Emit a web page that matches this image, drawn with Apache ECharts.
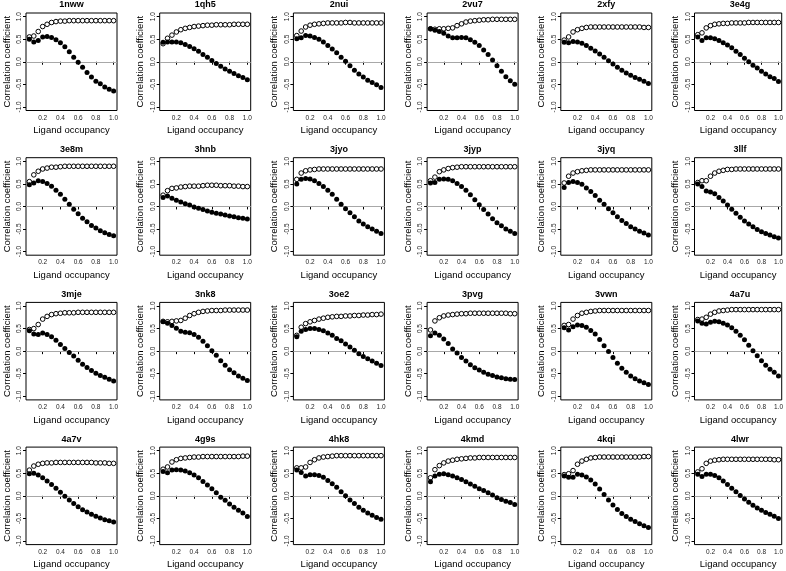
<!DOCTYPE html>
<html><head><meta charset="utf-8">
<script src="https://cdn.jsdelivr.net/npm/echarts@6/dist/echarts.min.js"></script>
<style>html,body{margin:0;padding:0;background:#fff}#c{width:786px;height:571px}</style>
</head><body><div id="c"></div><script>
const occupancy = [0.05,0.10,0.15,0.20,0.25,0.30,0.35,0.40,0.45,0.50,0.55,0.60,0.65,0.70,0.75,0.80,0.85,0.90,0.95,1.00];
const panelNames = ['1nww','1qh5','2nui','2vu7','2xfy','3e4g','3e8m','3hnb','3jyo','3jyp','3jyq','3llf','3mje','3nk8','3oe2','3pvg','3vwn','4a7u','4a7v','4g9s','4hk8','4kmd','4kqi','4lwr'];
const xTicks = [0.2,0.4,0.6,0.8,1.0];
const yTicks = [-1.0,-0.5,0.0,0.5,1.0];
const openValues = [
[0.55,0.57,0.67,0.78,0.83,0.87,0.89,0.90,0.90,0.91,0.91,0.91,0.91,0.91,0.91,0.91,0.91,0.91,0.91,0.91],
[0.40,0.52,0.59,0.66,0.71,0.74,0.76,0.78,0.79,0.80,0.81,0.81,0.82,0.82,0.82,0.82,0.83,0.83,0.83,0.83],
[0.58,0.68,0.77,0.81,0.83,0.84,0.85,0.86,0.86,0.86,0.86,0.87,0.87,0.86,0.86,0.86,0.86,0.86,0.86,0.86],
[0.73,0.72,0.73,0.73,0.74,0.75,0.80,0.84,0.88,0.90,0.91,0.92,0.93,0.93,0.94,0.94,0.94,0.94,0.94,0.94],
[0.48,0.55,0.66,0.71,0.74,0.76,0.77,0.77,0.77,0.77,0.77,0.77,0.77,0.77,0.77,0.77,0.77,0.77,0.76,0.76],
[0.60,0.64,0.75,0.80,0.83,0.84,0.85,0.85,0.86,0.86,0.86,0.86,0.87,0.87,0.87,0.87,0.87,0.87,0.87,0.87],
[0.55,0.70,0.78,0.83,0.85,0.87,0.87,0.88,0.89,0.89,0.89,0.89,0.89,0.89,0.89,0.89,0.89,0.89,0.89,0.89],
[0.25,0.35,0.40,0.41,0.43,0.44,0.45,0.45,0.45,0.46,0.47,0.47,0.47,0.46,0.46,0.46,0.45,0.45,0.44,0.44],
[0.60,0.74,0.79,0.81,0.82,0.83,0.83,0.83,0.83,0.83,0.83,0.83,0.83,0.83,0.83,0.83,0.83,0.83,0.83,0.83],
[0.57,0.65,0.77,0.81,0.84,0.86,0.87,0.88,0.88,0.88,0.88,0.88,0.88,0.88,0.88,0.88,0.88,0.88,0.88,0.88],
[0.52,0.67,0.74,0.77,0.79,0.80,0.81,0.81,0.81,0.81,0.81,0.81,0.81,0.81,0.81,0.81,0.81,0.81,0.81,0.81],
[0.53,0.57,0.57,0.67,0.74,0.78,0.80,0.82,0.82,0.83,0.83,0.83,0.83,0.83,0.83,0.83,0.83,0.83,0.83,0.83],
[0.48,0.50,0.59,0.71,0.77,0.81,0.83,0.84,0.85,0.85,0.85,0.86,0.86,0.86,0.86,0.86,0.86,0.86,0.86,0.86],
[0.66,0.65,0.66,0.67,0.68,0.73,0.79,0.83,0.86,0.88,0.89,0.90,0.90,0.90,0.91,0.91,0.91,0.91,0.91,0.91],
[0.35,0.53,0.61,0.65,0.68,0.71,0.73,0.75,0.76,0.77,0.77,0.78,0.78,0.79,0.79,0.80,0.80,0.81,0.81,0.82],
[0.47,0.67,0.74,0.78,0.80,0.81,0.82,0.83,0.83,0.84,0.84,0.84,0.84,0.84,0.84,0.84,0.84,0.84,0.83,0.83],
[0.57,0.59,0.71,0.79,0.84,0.86,0.88,0.89,0.90,0.90,0.90,0.90,0.90,0.90,0.90,0.90,0.90,0.90,0.90,0.90],
[0.70,0.71,0.75,0.82,0.86,0.89,0.90,0.91,0.92,0.92,0.92,0.92,0.92,0.92,0.92,0.92,0.92,0.92,0.92,0.92],
[0.57,0.66,0.70,0.72,0.73,0.73,0.74,0.74,0.74,0.74,0.74,0.74,0.74,0.74,0.74,0.73,0.73,0.73,0.72,0.72],
[0.59,0.64,0.75,0.80,0.83,0.84,0.85,0.86,0.86,0.87,0.87,0.87,0.87,0.87,0.87,0.87,0.87,0.87,0.88,0.88],
[0.62,0.62,0.64,0.74,0.80,0.84,0.86,0.87,0.88,0.89,0.89,0.89,0.89,0.89,0.89,0.89,0.89,0.89,0.89,0.89],
[0.40,0.58,0.67,0.73,0.77,0.79,0.81,0.82,0.83,0.84,0.84,0.85,0.85,0.85,0.85,0.85,0.85,0.85,0.85,0.85],
[0.47,0.49,0.56,0.70,0.77,0.81,0.84,0.85,0.86,0.86,0.86,0.86,0.86,0.86,0.86,0.86,0.86,0.86,0.87,0.87],
[0.53,0.60,0.72,0.77,0.79,0.80,0.81,0.81,0.81,0.81,0.81,0.81,0.81,0.81,0.81,0.81,0.81,0.81,0.80,0.80]
];
const filledValues = [
[0.50,0.44,0.47,0.55,0.56,0.54,0.49,0.42,0.33,0.22,0.10,-0.01,-0.12,-0.24,-0.34,-0.43,-0.49,-0.56,-0.61,-0.65],
[0.43,0.44,0.44,0.44,0.42,0.38,0.34,0.29,0.23,0.16,0.10,0.03,-0.04,-0.10,-0.16,-0.21,-0.26,-0.31,-0.35,-0.40],
[0.51,0.53,0.58,0.57,0.54,0.50,0.44,0.36,0.28,0.20,0.10,0.01,-0.09,-0.19,-0.27,-0.34,-0.41,-0.46,-0.51,-0.57],
[0.73,0.70,0.67,0.63,0.57,0.53,0.53,0.54,0.53,0.49,0.43,0.36,0.26,0.16,0.04,-0.09,-0.21,-0.33,-0.42,-0.50],
[0.43,0.42,0.45,0.44,0.41,0.36,0.30,0.24,0.17,0.10,0.02,-0.05,-0.12,-0.19,-0.25,-0.30,-0.35,-0.39,-0.43,-0.48],
[0.55,0.47,0.53,0.53,0.51,0.47,0.42,0.37,0.31,0.23,0.16,0.08,0.00,-0.08,-0.14,-0.21,-0.27,-0.33,-0.37,-0.44],
[0.48,0.52,0.57,0.55,0.51,0.45,0.36,0.27,0.16,0.05,-0.06,-0.16,-0.26,-0.34,-0.42,-0.48,-0.54,-0.58,-0.62,-0.65],
[0.20,0.23,0.18,0.14,0.10,0.06,0.03,-0.01,-0.04,-0.07,-0.10,-0.13,-0.15,-0.17,-0.19,-0.21,-0.23,-0.25,-0.26,-0.28],
[0.50,0.60,0.62,0.61,0.57,0.51,0.44,0.36,0.27,0.16,0.05,-0.05,-0.14,-0.23,-0.32,-0.39,-0.45,-0.50,-0.55,-0.60],
[0.52,0.53,0.60,0.61,0.60,0.57,0.51,0.44,0.36,0.26,0.15,0.04,-0.07,-0.17,-0.27,-0.36,-0.43,-0.50,-0.55,-0.60],
[0.42,0.53,0.55,0.53,0.49,0.41,0.33,0.24,0.14,0.05,-0.05,-0.14,-0.23,-0.31,-0.38,-0.45,-0.50,-0.55,-0.59,-0.63],
[0.50,0.44,0.34,0.32,0.28,0.20,0.12,0.03,-0.06,-0.15,-0.24,-0.32,-0.39,-0.45,-0.51,-0.56,-0.60,-0.63,-0.67,-0.70],
[0.45,0.38,0.37,0.40,0.37,0.32,0.24,0.15,0.06,-0.03,-0.11,-0.20,-0.29,-0.36,-0.43,-0.49,-0.54,-0.58,-0.62,-0.66],
[0.65,0.62,0.57,0.51,0.44,0.42,0.41,0.37,0.31,0.22,0.12,0.01,-0.09,-0.21,-0.31,-0.41,-0.48,-0.55,-0.60,-0.65],
[0.32,0.44,0.48,0.50,0.50,0.48,0.45,0.40,0.35,0.28,0.23,0.16,0.09,0.02,-0.06,-0.12,-0.17,-0.22,-0.27,-0.32],
[0.34,0.40,0.35,0.27,0.17,0.05,-0.04,-0.14,-0.22,-0.30,-0.37,-0.42,-0.47,-0.51,-0.54,-0.57,-0.59,-0.61,-0.62,-0.63],
[0.52,0.47,0.54,0.58,0.57,0.53,0.46,0.38,0.26,0.12,-0.01,-0.14,-0.27,-0.38,-0.47,-0.55,-0.61,-0.66,-0.70,-0.74],
[0.67,0.62,0.60,0.64,0.66,0.65,0.62,0.58,0.52,0.44,0.35,0.25,0.13,0.01,-0.10,-0.21,-0.31,-0.40,-0.47,-0.55],
[0.49,0.50,0.46,0.40,0.33,0.25,0.17,0.08,-0.01,-0.09,-0.17,-0.24,-0.31,-0.36,-0.41,-0.45,-0.49,-0.53,-0.55,-0.58],
[0.54,0.51,0.57,0.58,0.57,0.55,0.51,0.46,0.40,0.32,0.24,0.16,0.07,-0.03,-0.10,-0.18,-0.25,-0.32,-0.38,-0.46],
[0.57,0.52,0.44,0.47,0.47,0.45,0.41,0.34,0.27,0.19,0.09,0.00,-0.09,-0.17,-0.25,-0.32,-0.38,-0.43,-0.48,-0.52],
[0.31,0.44,0.48,0.49,0.47,0.44,0.40,0.36,0.31,0.26,0.21,0.16,0.12,0.07,0.02,-0.04,-0.08,-0.12,-0.15,-0.19],
[0.44,0.41,0.41,0.48,0.46,0.42,0.35,0.26,0.15,0.03,-0.09,-0.20,-0.30,-0.39,-0.46,-0.52,-0.57,-0.62,-0.66,-0.70],
[0.48,0.43,0.48,0.48,0.45,0.40,0.33,0.25,0.17,0.09,0.01,-0.07,-0.14,-0.21,-0.27,-0.32,-0.37,-0.41,-0.45,-0.50]
];

const FONT = '"Liberation Sans", Arial, Helvetica, sans-serif';
const COL_LEFT0 = 26, COL_PITCH = 133.7, BOX_W = 91;
const ROW_TOP0 = 13, ROW_PITCH = 144.7, BOX_H = 97.5;
const NCOL = 6;

const grids = [], xAxes = [], yAxes = [], series = [], graphics = [];
panelNames.forEach((name, i) => {
  const c = i % NCOL, r = Math.floor(i / NCOL);
  const left = COL_LEFT0 + c * COL_PITCH;
  const top = ROW_TOP0 + r * ROW_PITCH;
  grids.push({left: left, top: top, width: BOX_W, height: BOX_H, show: true,
    borderColor: '#000', borderWidth: 1, backgroundColor: 'transparent', containLabel: false});
  xAxes.push({type: 'value', gridIndex: i, min: 0.012, max: 1.038,
    axisLine: {show: false}, splitLine: {show: false},
    axisTick: {show: true, customValues: xTicks, length: 3, lineStyle: {color: '#000', width: 1}},
    axisLabel: {customValues: xTicks, fontSize: 6.5, margin: 4, color: '#222', fontFamily: FONT,
      hideOverlap: false, formatter: v => v.toFixed(1)},
    name: 'Ligand occupancy', nameLocation: 'middle', nameGap: 15,
    nameTextStyle: {fontSize: 9.5, color: '#000', fontFamily: FONT}});
  yAxes.push({type: 'value', gridIndex: i, min: -1.08, max: 1.08,
    axisLine: {show: false}, splitLine: {show: false},
    axisTick: {show: true, customValues: yTicks, length: 3, lineStyle: {color: '#000', width: 1}},
    axisLabel: {customValues: yTicks, fontSize: 6.5, margin: 3, rotate: 90, color: '#222', fontFamily: FONT,
      hideOverlap: false, formatter: v => v.toFixed(1)},
    name: 'Correlation coefficient', nameLocation: 'middle', nameGap: 14,
    nameTextStyle: {fontSize: 9.5, color: '#000', fontFamily: FONT}});
  series.push({type: 'scatter', xAxisIndex: i, yAxisIndex: i, silent: true, z: 3,
    data: occupancy.map((x, j) => [x, openValues[i][j]]),
    symbol: 'circle', symbolSize: 4.6,
    itemStyle: {color: '#fff', borderColor: '#000', borderWidth: 1, opacity: 1}});
  series.push({type: 'scatter', xAxisIndex: i, yAxisIndex: i, silent: true, z: 4,
    data: occupancy.map((x, j) => [x, filledValues[i][j]]),
    symbol: 'circle', symbolSize: 5,
    itemStyle: {color: '#000', opacity: 1},
    markLine: {silent: true, symbol: 'none', label: {show: false}, animation: false, z: 1,
      lineStyle: {color: '#a8a8a8', type: 'solid', width: 1},
      data: [{yAxis: 0}]}});
  graphics.push({type: 'text', x: left + BOX_W / 2, y: top - 8,
    style: {text: name, fontSize: 9, fontWeight: 'bold', fontFamily: FONT, fill: '#000',
      align: 'center', verticalAlign: 'middle', textAlign: 'center', textVerticalAlign: 'middle'}});
});

const chart = echarts.init(document.getElementById('c'), null, {renderer: 'canvas'});
chart.setOption({
  animation: false,
  backgroundColor: '#fff',
  grid: grids, xAxis: xAxes, yAxis: yAxes, series: series,
  graphic: graphics
});
</script></body></html>
